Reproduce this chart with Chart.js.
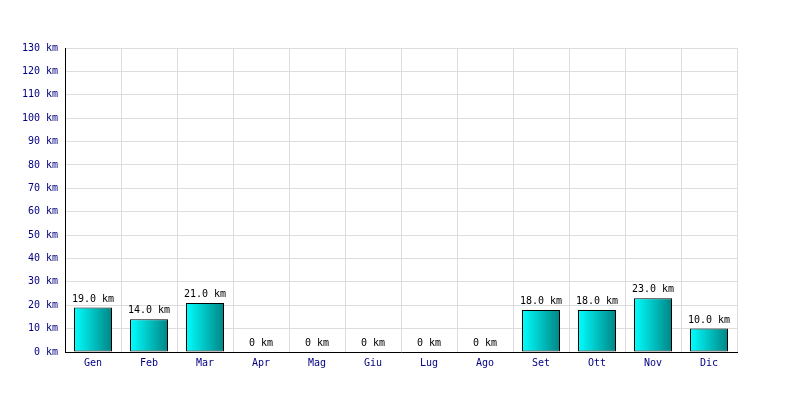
<!DOCTYPE html>
<html><head><meta charset="utf-8">
<script src="https://cdn.jsdelivr.net/npm/chart.js@4"></script>
<style>html,body{margin:0;padding:0;background:#fff}#wrap{width:800px;height:400px}</style>
</head><body><div id="wrap"><canvas id="c" width="800" height="400"></canvas></div>
<script>
const months = ["Gen","Feb","Mar","Apr","Mag","Giu","Lug","Ago","Set","Ott","Nov","Dic"];
const distances = [19,14,21,0,0,0,0,0,18,18,23,10];
const yTicks = [0,10,20,30,40,50,60,70,80,90,100,110,120,130];
const unit = "km";
const FONT = "'DejaVu Sans Mono', monospace";

function fmt(v){ return v === 0 ? "0 " + unit : v.toFixed(1) + " " + unit; }

const labelPlugin = {
  id: 'valueLabels',
  afterDatasetsDraw(chart){
    const ctx = chart.ctx;
    const meta = chart.getDatasetMeta(0);
    ctx.save();
    ctx.font = "10px " + FONT;
    ctx.fillStyle = "#000";
    ctx.textAlign = "center";
    ctx.textBaseline = "bottom";
    meta.data.forEach((bar, i) => {
      ctx.fillText(fmt(distances[i]), bar.x, Math.round(bar.y) - 4);
    });
    ctx.restore();
  }
};

new Chart(document.getElementById('c'), {
  type: 'bar',
  data: {
    labels: months,
    datasets: [{
      data: distances,
      backgroundColor: function(c){
        const chart = c.chart;
        const xs = chart.scales.x;
        if (!chart.chartArea || !xs || c.dataIndex === undefined) return '#00cccc';
        const cx = xs.getPixelForValue(c.dataIndex);
        const half = 19;
        const g = chart.ctx.createLinearGradient(cx - half, 0, cx + half, 0);
        g.addColorStop(0, '#00ffff');
        g.addColorStop(1, '#008585');
        return g;
      },
      borderColor: '#000',
      borderWidth: 1,
      borderSkipped: false,
      categoryPercentage: 1.0,
      barPercentage: 38/56
    }]
  },
  options: {
    responsive: false,
    animation: false,
    layout: { padding: { left: 0, right: 63, top: 48, bottom: 0 } },
    plugins: { legend: { display: false }, tooltip: { enabled: false } },
    scales: {
      x: {
        offset: true,
        grid: { color: '#dddddd', offset: true, drawTicks: false },
        border: { color: '#000', width: 1 },
        ticks: { color: '#000080', font: { family: FONT, size: 10 }, padding: 5, maxRotation: 0 },
        afterFit: s => { s.height = 48; }
      },
      y: {
        min: 0, max: 130,
        afterBuildTicks: s => { s.ticks = yTicks.map(v => ({ value: v })); },
        grid: { color: '#dddddd', drawTicks: false },
        border: { color: '#000', width: 1 },
        ticks: { color: '#000080', font: { family: FONT, size: 10 }, padding: 7,
                 callback: v => v + " " + unit },
        afterFit: s => { s.width = 65; }
      }
    }
  },
  plugins: [labelPlugin]
});
</script></body></html>
